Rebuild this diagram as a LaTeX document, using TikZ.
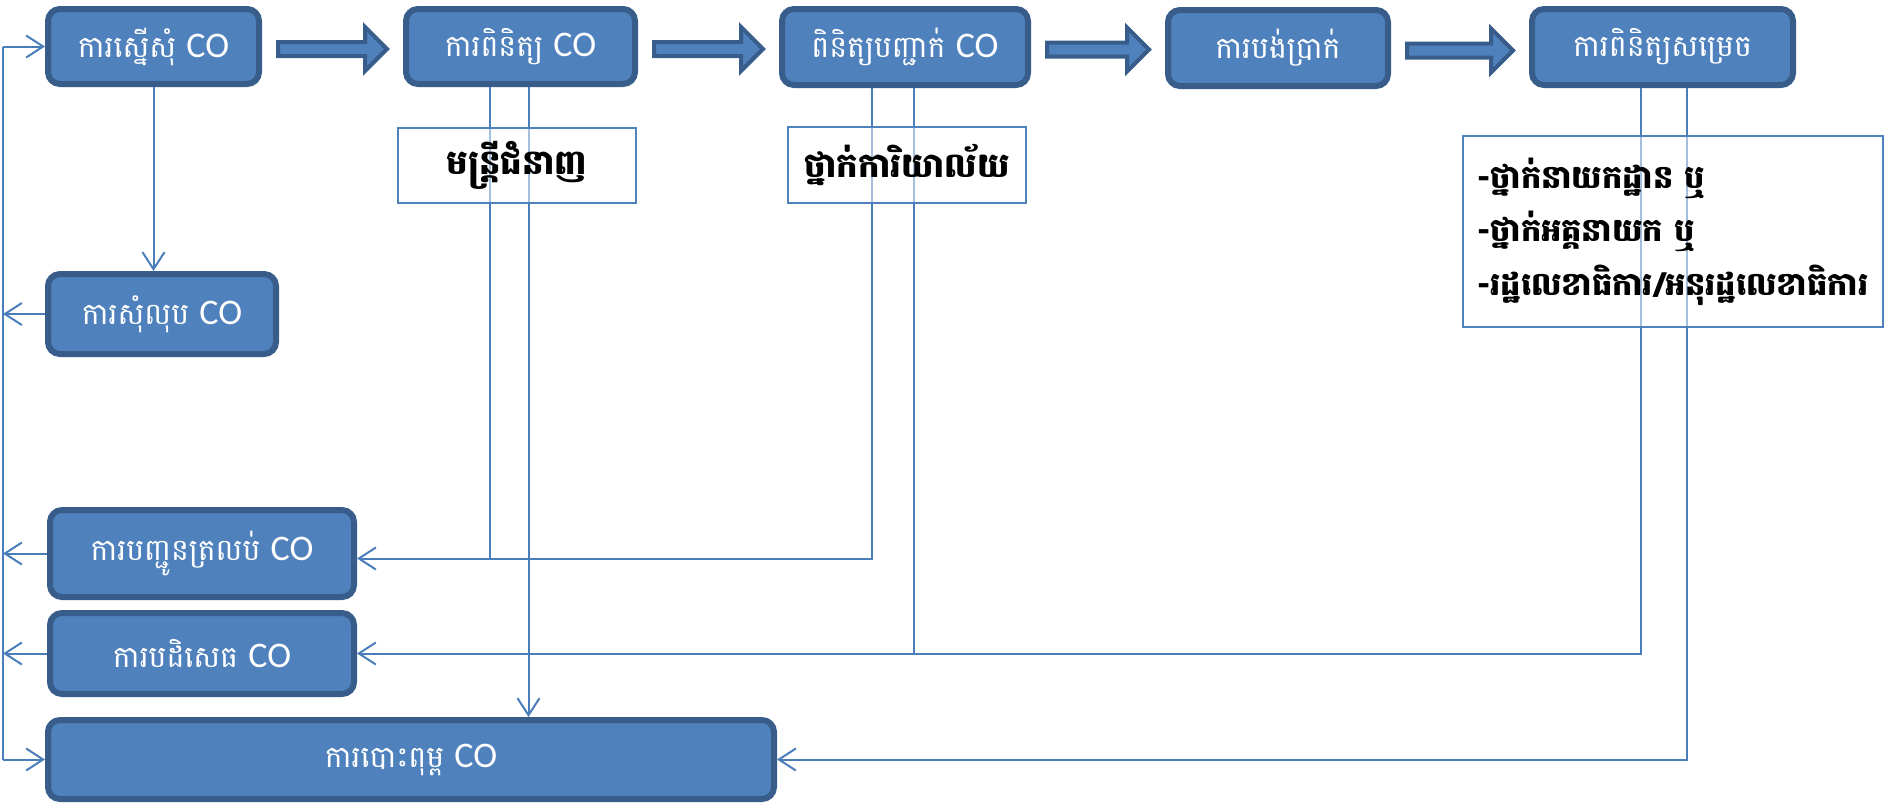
\documentclass[tikz,border=0pt]{standalone}
\usepackage{fontspec}
\usepackage{tikz}
\usetikzlibrary{arrows.meta,calc}

\newfontfamily\khmer[Script=Khmer]{Battambang}
\newfontfamily\latin{Carlito}
\newcommand\CO{{\latin\fontsize{18}{18}\selectfont CO}}

\definecolor{boxfill}{HTML}{4F81BD}
\definecolor{boxline}{HTML}{385D8A}
\definecolor{linkblue}{HTML}{4A7EBB}

\tikzset{
  stage/.style={draw=boxline, line width=3pt, fill=boxfill, rounded corners=6pt,
    text=white, font=\khmer\fontsize{15}{17}\selectfont, inner sep=0pt},
  level/.style={draw=boxfill, line width=0.8pt, fill=white, fill opacity=0.5, text opacity=1,
    font=\khmer\bfseries\fontsize{17}{20}\selectfont, inner sep=0pt},
  link/.style={draw=linkblue, line width=1pt},
  arr/.style={link, -{Straight Barb[length=8.5pt,width=11pt]}},
  barrow/.style={draw=boxline, line width=2pt, fill=boxfill, line join=miter}
}

% block arrow between two stages
\newcommand\blockarrow[2]{%
  \draw[barrow] let \p1=($(#1.east)+(16,2.5)$), \p2=($(#2.west)+(-16,2.5)$) in
    (\x1,\y1+3.5pt) -- (\x2-11pt,\y1+3.5pt) -- (\x2-11pt,\y1+11pt) -- (\x2,\y1)
    -- (\x2-11pt,\y1-11pt) -- (\x2-11pt,\y1-3.5pt) -- (\x1,\y1-3.5pt) -- cycle;}

\begin{document}
\begin{tikzpicture}[x=0.5pt,y=-0.5pt]
  \useasboundingbox (0,0) rectangle (1885,804);

  % Top row
  \node[stage, minimum width=105.5pt, minimum height=37.5pt] (req) at (153.5,46.5) {ការស្នើសុំ \CO};
  \node[stage, minimum width=114.5pt, minimum height=37.5pt] (chk) at (520.5,46.5) {ការពិនិត្យ \CO};
  \node[stage, minimum width=123pt, minimum height=38pt] (cfm) at (905,47) {ពិនិត្យបញ្ជាក់ \CO};
  \node[stage, minimum width=110pt, minimum height=38pt] (pay) at (1278,48) {ការបង់ប្រាក់};
  \node[stage, minimum width=130.5pt, minimum height=38pt] (dec) at (1662.5,47) {ការពិនិត្យសម្រេច};

  % Left column
  \node[stage, minimum width=114pt, minimum height=40pt] (del) at (162,314) {ការសុំលុប \CO};
  \node[stage, minimum width=152pt, minimum height=43.5pt] (ret) at (202,553.5) {ការបញ្ជូនត្រលប់ \CO};
  \node[stage, minimum width=152pt, minimum height=40.5pt] (rej) at (202,653.5) {ការបដិសេធ \CO};
  \node[stage, minimum width=363pt, minimum height=39.5pt] (prt) at (411,759.5) {ការបោះពុម្ព \CO};

  % Block arrows
  \blockarrow{req}{chk}
  \blockarrow{chk}{cfm}
  \blockarrow{cfm}{pay}
  \blockarrow{pay}{dec}

  % Left bus
  \coordinate (bus) at (3,0);
  \draw[link] (bus |- req.west) -- (bus |- prt.west);
  \draw[arr] (bus |- req.west) -- (req.west);
  \draw[arr] (bus |- prt.west) -- (prt.west);
  \foreach \n in {del,ret,rej}
    \draw[arr] (\n.west) -- (bus |- \n.west);

  % Request to delete
  \draw[arr] (req.south) -- (req.south |- del.north);

  % Send back
  \coordinate (jr) at ($(ret.east)+(0,5)$);
  \draw[link] ($(chk.south)+(-31,0)$) coordinate (c1) -- (c1 |- jr);
  \draw[arr] ($(cfm.south)+(-33,0)$) coordinate (c3) -- (c3 |- jr) -- (jr);

  % Reject
  \draw[link] ($(cfm.south)+(9,0)$) coordinate (c4) -- (c4 |- rej.east);
  \draw[arr] ($(dec.south)+(-22,0)$) coordinate (c5) -- (c5 |- rej.east) -- (rej.east);

  % Print
  \draw[arr] ($(chk.south)+(8,0)$) coordinate (c2) -- (c2 |- prt.north);
  \draw[arr] ($(dec.south)+(24,0)$) coordinate (c6) -- (c6 |- prt.east) -- (prt.east);

  % Levels
  \node[level, minimum width=119pt, minimum height=37.5pt] (off) at (517,165.5) {មន្ត្រីជំនាញ};
  \node[level, minimum width=119pt, minimum height=38pt] (dep) at (907,165) {ថ្នាក់ការិយាល័យ};
  \node[level, minimum width=210pt, minimum height=95.5pt, align=left,
    font=\khmer\bfseries\fontsize{16}{26.75}\selectfont] (top) at (1673,231.5)
    {-ថ្នាក់នាយកដ្ឋាន ឬ\\-ថ្នាក់អគ្គនាយក ឬ\\-រដ្ឋលេខាធិការ/អនុរដ្ឋលេខាធិការ};
\end{tikzpicture}
\end{document}
